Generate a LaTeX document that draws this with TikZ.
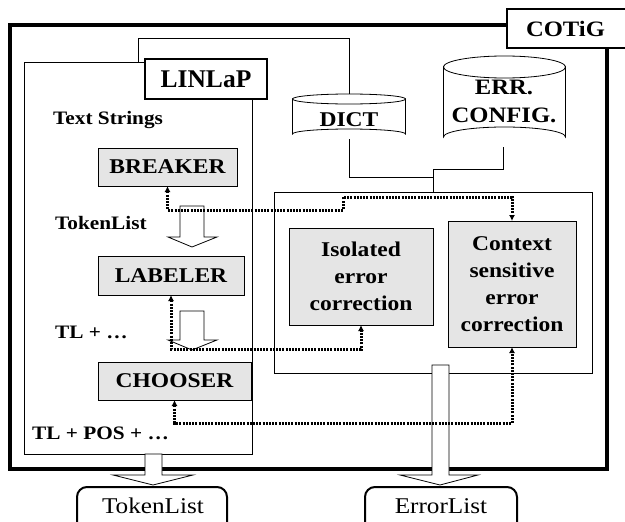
\documentclass[tikz,border=0pt]{standalone}
\usepackage{fontspec}
\setmainfont{Liberation Serif}[FakeStretch=1.12]
\usetikzlibrary{arrows.meta}
\begin{document}
\begin{tikzpicture}[x=1pt,y=-1pt,
  thinline/.style={line width=0.8pt},
  procbox/.style={draw, thinline, fill=black!10, inner sep=0pt, outer sep=0pt, align=center,
     font=\fontsize{21}{27}\selectfont\bfseries},
  titlebox/.style={draw, line width=2.2pt, fill=white, inner sep=0pt, outer sep=0pt,
     font=\fontsize{22}{24}\selectfont\bfseries},
  plainbox/.style={draw, thinline, inner sep=0pt, outer sep=0pt},
  lbl/.style={anchor=west, inner sep=0pt, font=\fontsize{19}{22}\selectfont\bfseries},
  dbtext/.style={inner sep=0pt, align=center, font=\fontsize{22}{28}\selectfont\bfseries},
  outbox/.style={draw, line width=2pt, rounded corners=10pt, inner sep=0pt, outer sep=0pt},
  outtext/.style={inner sep=0pt, font=\fontsize{22.5}{26}\selectfont},
  hollow/.style={draw, thinline, fill=white},
  dotline/.style={line width=3pt, dash pattern=on 2pt off 1.2pt,
     {Latex[length=6pt,width=6pt]}-{Latex[length=6pt,width=6pt]}},
  wire/.style={thinline}
]
\useasboundingbox (0,0) rectangle (625,522);
\clip (0,0) rectangle (625,522);

% outer frame
\node[draw, line width=4pt, minimum width=597pt, minimum height=444pt, inner sep=0pt] (cotig) at (308.5,247) {};
\node[titlebox, minimum width=123pt, minimum height=39pt] (cotiglbl) at (568.5,28.5) {\hspace*{-6pt}COTiG};

% LINLaP
\node[plainbox, fill=white, minimum width=228pt, minimum height=392pt] (linlap) at (138,258) {};
\coordinate (wA) at (138,62);
\draw[wire] (wA) -- (138,38) -- (349,38) -- (349,94);
\node[titlebox, minimum width=122pt, minimum height=40pt, font=\fontsize{25.5}{28}\selectfont\bfseries] (linlaplbl) at (206,79) {\addfontfeature{FakeStretch=1}LINLaP};

% DICT cylinder
\draw[thinline, fill=white] (292.5,99) -- (292.5,134) arc[start angle=180, end angle=360, x radius=56.5, y radius=5] -- (405.5,99) arc[start angle=0, end angle=180, x radius=56.5, y radius=5] -- cycle;
\draw[thinline] (292.5,99) arc[start angle=180, end angle=360, x radius=56.5, y radius=5];
\node[dbtext, font=\fontsize{21}{28}\selectfont\bfseries] (dict) at (349,120) {DICT};
\coordinate (dictbot) at (349,139);

% ERR CONFIG cylinder
\draw[thinline, fill=white] (443.5,67) -- (443.5,137) arc[start angle=180, end angle=360, x radius=61, y radius=10] -- (565.5,67) arc[start angle=0, end angle=180, x radius=61, y radius=11] -- cycle;
\draw[thinline] (443.5,67) arc[start angle=180, end angle=360, x radius=61, y radius=11];
\node[dbtext] (errcfg) at (504,101) {ERR.\\CONFIG.};
\coordinate (errbot) at (503,147);

% error correction container
\node[plainbox, minimum width=318pt, minimum height=181pt] (ec) at (433,282.5) {};
\draw[wire] (dictbot) -- (349,177) -- (433,177);
\draw[wire] (errbot) -- (503,169) -- (433,169) -- (ec.north);

\node[procbox, minimum width=144pt, minimum height=97pt] (iso) at (361,276.5) {Isolated\\error\\correction};
\node[procbox, minimum width=128pt, minimum height=126pt] (ctx) at (512,284) {Context\\sensitive\\error\\correction};

% LINLaP components
\node[procbox, minimum width=139pt, minimum height=38pt] (breaker) at (167.5,167) {BREAKER};
\node[procbox, minimum width=146pt, minimum height=39pt] (labeler) at (171,275.5) {LABELER};
\node[procbox, minimum width=153pt, minimum height=38pt] (chooser) at (174.5,381) {CHOOSER};

\node[lbl] (ts) at (53,120) {Text Strings};
\node[lbl] (tl) at (55,223) {TokenList};
\node[lbl] (tl2) at (55,332) {TL + …};
\node[lbl] (tl3) at (32,433) {TL + POS + …};

% hollow arrows
\draw[hollow] (180,206) -- (204,206) -- (204,237) -- (217,237) -- (192,247) -- (168,237) -- (180,237) -- cycle;
\draw[hollow] (180,311) -- (204,311) -- (204,340) -- (217,340) -- (192,350) -- (168,340) -- (180,340) -- cycle;
\draw[hollow] (145,454) -- (162,454) -- (162,475) -- (193,475) -- (153,485) -- (113,475) -- (145,475) -- cycle;
\draw[hollow] (432,365) -- (449,365) -- (449,475) -- (478,475) -- (440,485) -- (400,475) -- (432,475) -- cycle;

% outputs
\node[outbox, minimum width=150pt, minimum height=50pt, anchor=north] (tokout) at (152,487) {};
\node[outtext] (toktxt) at (153,506) {TokenList};
\node[outbox, minimum width=152pt, minimum height=50pt, anchor=north] (errout) at (441,487) {};
\node[outtext] (errtxt) at (441,506) {ErrorList};

% dotted connectors
\draw[dotline] (breaker.south) -- (167.5,210) -| (343,197) -| (ctx.north);
\draw[dotline] (labeler.south) -- (171,349) -| (iso.south);
\draw[dotline] (chooser.south) -- (174.5,423) -| (ctx.south);
\end{tikzpicture}
\end{document}
